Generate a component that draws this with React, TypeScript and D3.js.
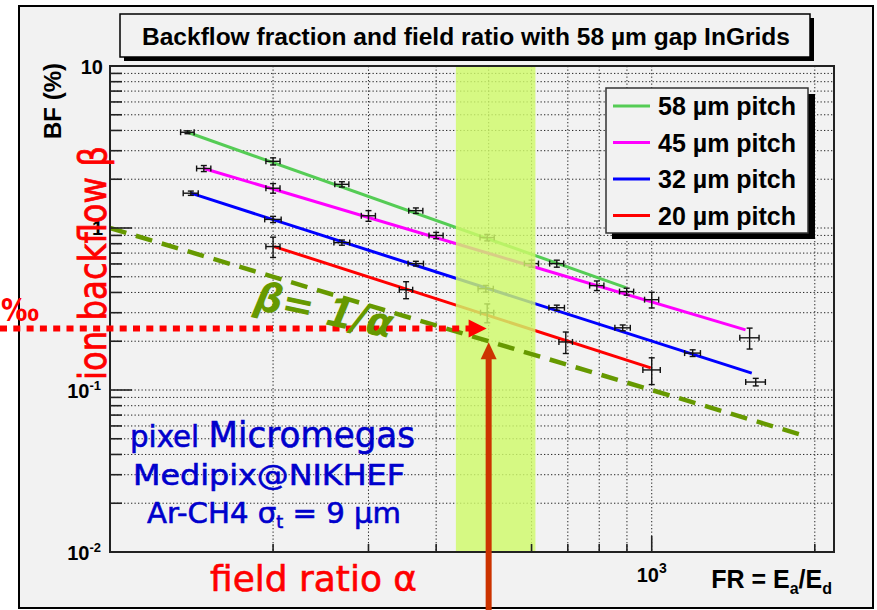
import React from 'react';
import * as d3 from 'd3';

const W = 877;
const H = 610;

// Series labels and colours (pitch of the InGrid holes)
const pitchLabels = ['58 µm pitch', '45 µm pitch', '32 µm pitch', '20 µm pitch'];
const pitchColors = ['#55cc55', '#ff00ff', '#0000ff', '#ff0000'];

// 58 µm pitch: field ratio, backflow fraction (%) and their errors
const fr58 = [139, 200, 268, 367, 497, 668, 899];
const bf58 = [3.9, 2.58, 1.86, 1.28, 0.873, 0.603, 0.405];
const frErr58 = [4, 6, 8, 11, 15, 20, 27];
const bfErr58 = [0.08, 0.13, 0.07, 0.05, 0.04, 0.03, 0.02];

// 45 µm pitch
const fr45 = [149, 200, 300, 400, 600, 792, 1000, 1516];
const bf45 = [2.33, 1.76, 1.19, 0.899, 0.603, 0.441, 0.361, 0.21];
const frErr45 = [4.5, 6, 9, 12, 18, 24, 30, 62];
const bfErr45 = [0.1, 0.12, 0.09, 0.04, 0.03, 0.03, 0.04, 0.031];

// 32 µm pitch
const fr32 = [141, 200, 268, 367, 494, 668, 884, 1190, 1556];
const bf32 = [1.64, 1.13, 0.813, 0.603, 0.422, 0.322, 0.242, 0.169, 0.112];
const frErr32 = [4.5, 7, 9, 12, 16, 22, 29, 40, 65];
const bfErr32 = [0.05, 0.05, 0.03, 0.02, 0.02, 0.012, 0.01, 0.008, 0.006];

// 20 µm pitch
const fr20 = [200, 352, 497, 694, 1000];
const bf20 = [0.768, 0.416, 0.3, 0.198, 0.133];
const frErr20 = [6, 10, 14, 20, 37];
const bfErr20 = [0.11, 0.05, 0.04, 0.03, 0.025];

// Power-law fits (start and end of each fitted segment)
const fitFr58 = [139, 896];
const fitBf58 = [3.9, 0.428];
const fitFr45 = [149, 1490];
const fitBf45 = [2.33, 0.235];
const fitFr32 = [141, 1530];
const fitBf32 = [1.64, 0.127];
const fitFr20 = [201, 996];
const fitBf20 = [0.768, 0.137];

// Reference line beta = 1/alpha (in %)
const refFr = [100, 1900];
const refBf = [1.0, 0.0526];

// Operating region and working point
const bandFr = [435, 610];
const workFr = 500;
const workBf = 0.24;
const workRefBf = 0.2;

// Axis ranges
const frDomain = [100, 2170];
const bfDomain = [0.01, 10];

const seriesFr = [fr58, fr45, fr32, fr20];
const seriesBf = [bf58, bf45, bf32, bf20];
const seriesFrErr = [frErr58, frErr45, frErr32, frErr20];
const seriesBfErr = [bfErr58, bfErr45, bfErr32, bfErr20];
const fitsFr = [fitFr58, fitFr45, fitFr32, fitFr20];
const fitsBf = [fitBf58, fitBf45, fitBf32, fitBf20];

const ROOT_FONT = '"Liberation Sans", Arial, Helvetica, sans-serif';
const HAND_FONT = '"DejaVu Sans", "Noto Sans", sans-serif';

export default function App() {
  const plotL = 110;
  const plotR = 834;
  const plotT = 66;
  const plotB = 552;

  const x = d3.scaleLog().domain(frDomain).range([plotL, plotR]);
  const y = d3.scaleLog().domain(bfDomain).range([plotB, plotT]);

  const xTicks = x.ticks().filter((t) => t > frDomain[0] * 1.001 && t < frDomain[1]);
  const yTicks = y.ticks().filter((t) => t >= bfDomain[0] && t <= bfDomain[1]);
  const yMajor = (t: number) => Math.abs(Math.log10(t) - Math.round(Math.log10(t))) < 1e-6;

  const line = d3
    .line<[number, number]>()
    .x((d) => x(d[0]))
    .y((d) => y(d[1]));

  const cap = 3;

  return (
    <svg
      width={W}
      height={H}
      style={{ position: 'absolute', left: 0, top: 0, background: '#ffffff' }}
      fontFamily={ROOT_FONT}
    >
      <defs>
        <clipPath id="plotClip">
          <rect x={plotL} y={plotT} width={plotR - plotL} height={plotB - plotT} />
        </clipPath>
      </defs>

      {/* canvas */}
      <rect x={19} y={6} width={854} height={602} fill="#f2f2f2" stroke="#000" strokeWidth={2} />

      {/* grid */}
      <g stroke="#000" strokeWidth={1} strokeDasharray="1.3 2.2" opacity={0.85}>
        {xTicks.map((t) => (
          <line key={'gx' + t} x1={x(t)} x2={x(t)} y1={plotT} y2={plotB} />
        ))}
        {yTicks
          .filter((t) => t > bfDomain[0] * 1.001 && t < bfDomain[1] * 0.999)
          .map((t) => (
            <line key={'gy' + t} x1={plotL} x2={plotR} y1={y(t)} y2={y(t)} />
          ))}
      </g>

      {/* fitted power laws */}
      <g clipPath="url(#plotClip)">
        {fitsFr.map((fr, i) => (
          <path
            key={'fit' + i}
            d={line([
              [fr[0], fitsBf[i][0]],
              [fr[1], fitsBf[i][1]],
            ]) as string}
            fill="none"
            stroke={pitchColors[i]}
            strokeWidth={3}
          />
        ))}
      </g>

      {/* measurements with error bars */}
      <g stroke="#111" strokeWidth={1.4} fill="none">
        {seriesFr.map((frs, s) =>
          frs.map((fr, i) => {
            const bf = seriesBf[s][i];
            const cx = x(fr);
            const cy = y(bf);
            const xl = x(fr - seriesFrErr[s][i]);
            const xr = x(fr + seriesFrErr[s][i]);
            const yt = y(bf + seriesBfErr[s][i]);
            const yb = y(bf - seriesBfErr[s][i]);
            return (
              <g key={'p' + s + '-' + i}>
                <line x1={xl} x2={xr} y1={cy} y2={cy} />
                <line x1={xl} x2={xl} y1={cy - cap} y2={cy + cap} />
                <line x1={xr} x2={xr} y1={cy - cap} y2={cy + cap} />
                <line x1={cx} x2={cx} y1={yt} y2={yb} />
                <line x1={cx - cap} x2={cx + cap} y1={yt} y2={yt} />
                <line x1={cx - cap} x2={cx + cap} y1={yb} y2={yb} />
              </g>
            );
          })
        )}
      </g>

      {/* operating region */}
      <rect
        x={x(bandFr[0])}
        y={plotT}
        width={x(bandFr[1]) - x(bandFr[0])}
        height={plotB - plotT}
        fill="#d0fa6a"
        opacity={0.82}
      />

      {/* beta = 1/alpha reference */}
      <path
        d={line([
          [refFr[0], refBf[0]],
          [refFr[1], refBf[1]],
        ]) as string}
        stroke="#669900"
        strokeWidth={4.5}
        strokeDasharray="17 10"
        fill="none"
      />

      {/* plot frame and ticks */}
      <rect x={plotL} y={plotT} width={plotR - plotL} height={plotB - plotT} fill="none" stroke="#222" strokeWidth={2} />
      <g stroke="#222" strokeWidth={1.6}>
        {yTicks.map((t) => (
          <line key={'ty' + t} x1={plotL} x2={plotL + (yMajor(t) ? 22 : 12)} y1={y(t)} y2={y(t)} />
        ))}
        {xTicks.map((t) => (
          <line key={'tx' + t} x1={x(t)} x2={x(t)} y1={plotB} y2={plotB - (yMajor(t) ? 16 : 8)} />
        ))}
      </g>

      {/* y tick labels */}
      <g fontWeight="bold" fontSize={20} textAnchor="end" fill="#000">
        <text x={103} y={y(10) + 8}>10</text>
        <text x={103} y={y(1) + 7}>1</text>
        <text x={101} y={y(0.1) + 8}>
          10<tspan dy={-8} fontSize={13}>-1</tspan>
        </text>
        <text x={101} y={y(0.01) + 8}>
          10<tspan dy={-8} fontSize={13}>-2</tspan>
        </text>
      </g>

      {/* x tick label */}
      <text x={x(1000)} y={582} fontWeight="bold" fontSize={20} textAnchor="middle">
        10<tspan dy={-9} fontSize={14}>3</tspan>
      </text>

      {/* axis titles */}
      <text x={832} y={588} fontWeight="bold" fontSize={25} textAnchor="end">
        FR = E<tspan fontSize={16} dy={6}>a</tspan>
        <tspan fontSize={25} dy={-6}>/E</tspan>
        <tspan fontSize={16} dy={6}>d</tspan>
      </text>
      <text
        transform={`translate(61,63) rotate(-90)`}
        fontWeight="bold"
        fontSize={24}
        textAnchor="end"
      >
        BF (%)
      </text>

      {/* title box */}
      <rect x={124} y={18} width={690} height={43} fill="#000" />
      <rect x={120} y={14} width={690} height={43} fill="#f2f2f2" stroke="#000" strokeWidth={1.5} />
      <text
        x={142}
        y={45}
        fontWeight="bold"
        fontSize={23}
        textLength={648}
        lengthAdjust="spacingAndGlyphs"
      >
        Backflow fraction and field ratio with 58 µm gap InGrids
      </text>

      {/* legend */}
      <rect x={612} y={94} width={203} height={145} fill="#000" />
      <rect x={606} y={88} width={202} height={145} fill="#f2f2f2" stroke="#333" strokeWidth={1.5} />
      {pitchLabels.map((lab, i) => {
        const by = 115 + i * 36.5;
        return (
          <g key={'lg' + i}>
            <line x1={613} x2={650} y1={by - 9} y2={by - 9} stroke={pitchColors[i]} strokeWidth={3} />
            <text x={658} y={by} fontWeight="bold" fontSize={25}>
              {lab}
            </text>
          </g>
        );
      })}

      {/* working point markers */}
      <line
        x1={0}
        x2={x(workFr) - 18}
        y1={y(workBf)}
        y2={y(workBf)}
        stroke="#ff0000"
        strokeWidth={6}
        strokeDasharray="7 6.3"
      />
      <polygon
        points={`${x(workFr) - 2},${y(workBf)} ${x(workFr) - 20},${y(workBf) - 9} ${x(workFr) - 20},${y(workBf) + 9}`}
        fill="#ff0000"
      />
      <line x1={x(workFr)} x2={x(workFr)} y1={H} y2={y(workRefBf) + 15} stroke="#cc3300" strokeWidth={6} />
      <polygon
        points={`${x(workFr)},${y(workRefBf) + 1} ${x(workFr) - 8},${y(workRefBf) + 18} ${x(workFr) + 8},${y(workRefBf) + 18}`}
        fill="#cc3300"
      />

      {/* annotations */}
      <text
        x={1}
        y={321}
        fontFamily={HAND_FONT}
        fontWeight="bold"
        fontSize={32}
        fill="#ff0000"
        textLength={38}
        lengthAdjust="spacingAndGlyphs"
      >
        ‰
      </text>
      <text
        transform="translate(106,380) rotate(-90)"
        fontFamily={HAND_FONT}
        fontSize={37}
        fill="#ff0000"
        stroke="#ff0000"
        strokeWidth={0.8}
        textLength={234}
        lengthAdjust="spacingAndGlyphs"
      >
        ion backflow β
      </text>
      <text
        x={210}
        y={591}
        fontFamily={HAND_FONT}
        fontSize={35}
        fill="#ff0000"
        stroke="#ff0000"
        strokeWidth={0.6}
        textLength={207}
        lengthAdjust="spacingAndGlyphs"
      >
        field ratio α
      </text>
      <text
        transform="translate(253,309) rotate(12)"
        fontFamily={HAND_FONT}
        fontSize={40}
        fontWeight="bold"
        fontStyle="italic"
        fill="#669900"
        textLength={140}
        lengthAdjust="spacingAndGlyphs"
      >
        β= 1/α
      </text>
      <g fontFamily={HAND_FONT} fill="#0000cc" stroke="#0000cc" strokeWidth={0.6}>
        <text x={130} y={447} fontSize={30} textLength={285} lengthAdjust="spacingAndGlyphs">
          pixel <tspan fontSize={35}>Micromegas</tspan>
        </text>
        <text x={133} y={485} fontSize={29} textLength={272} lengthAdjust="spacingAndGlyphs">
          Medipix@NIKHEF
        </text>
        <text x={147} y={523} fontSize={28} textLength={254} lengthAdjust="spacingAndGlyphs">
          Ar-CH4 σ<tspan fontSize={17} dy={5}>t</tspan>
          <tspan dy={-5}> = 9 µm</tspan>
        </text>
      </g>
    </svg>
  );
}
